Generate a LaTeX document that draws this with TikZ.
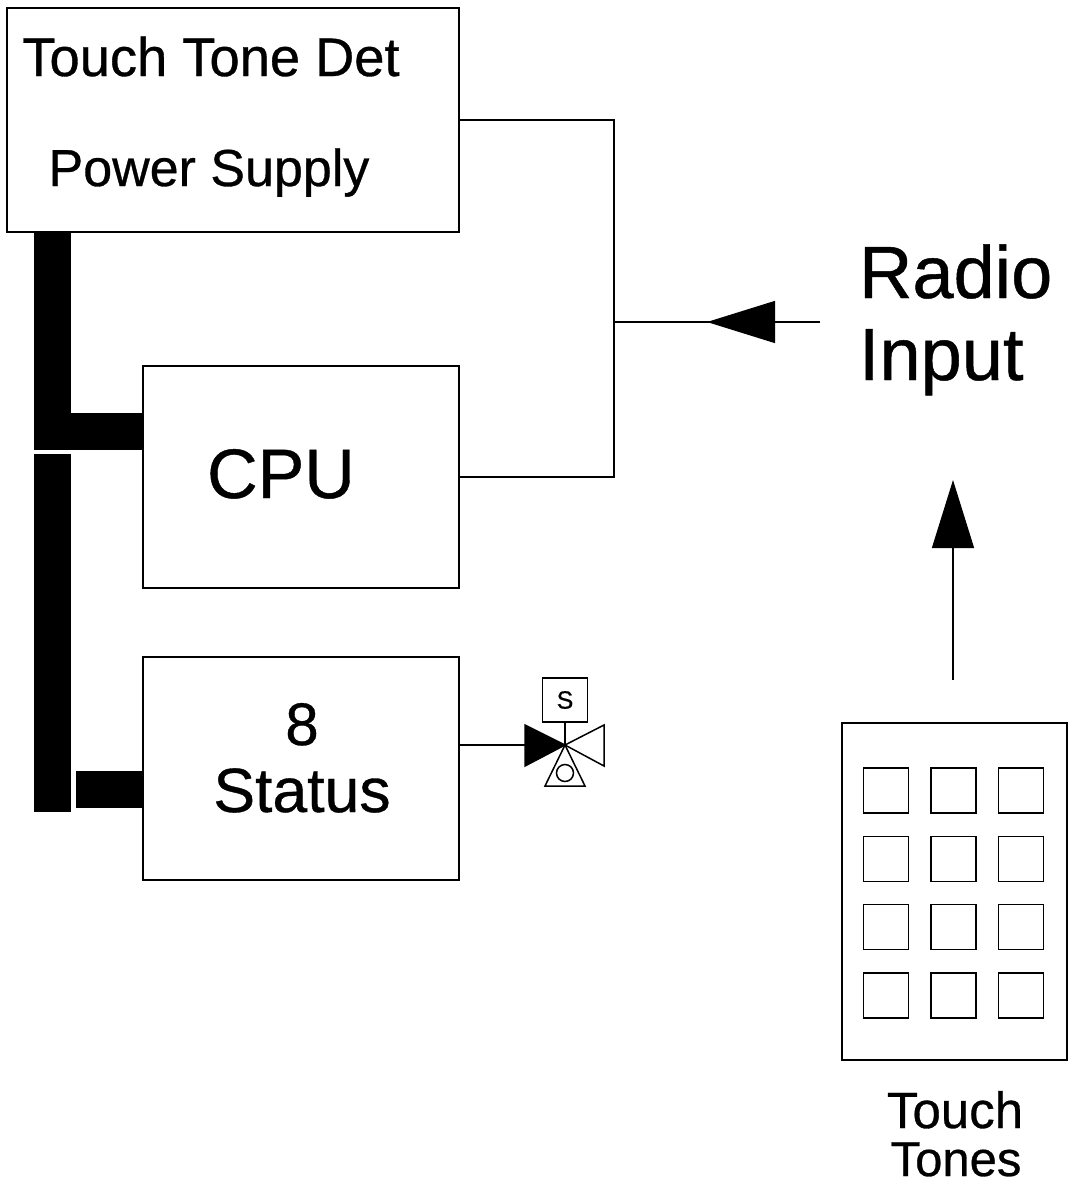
\documentclass[tikz,border=0pt]{standalone}
\usepackage{fontspec}
\setmainfont{Liberation Sans}[FakeBold=0.6]
\usetikzlibrary{
  arrows.meta,
  matrix,
  positioning
}
\tikzset{
  unitbox/.style={draw=black,line width=1.5pt,fill=white,inner sep=0pt,outer sep=0pt},
  keybox/.style={draw=black,line width=1.3pt,fill=white,inner sep=0pt,outer sep=0pt,
    minimum width=45pt,minimum height=45pt},
  wire/.style={draw=black,line width=1.3pt},
  bus/.style={draw=black,line width=37pt},
  bigarrow/.style={-{Triangle[length=68pt,width=42pt]},draw=black,line width=1.3pt},
  lab/.style={inner sep=0pt,outer sep=0pt,align=center,text=black},
  valve/.style={draw=black,line width=1.5pt,line join=miter}
}
\begin{document}
\begin{tikzpicture}[x=1pt,y=-1pt]
  \useasboundingbox (0,0) rectangle (1068,1187);
  % boxes
  \node[unitbox,minimum width=452pt,minimum height=224pt] (det) at (233,120) {};
  \node[unitbox,minimum width=316pt,minimum height=222pt] (cpu) at (301,477) {};
  \node[unitbox,minimum width=316pt,minimum height=223pt] (status) at (301,768.5) {};
  \node[unitbox,minimum width=225pt,minimum height=337pt] (pad) at (954.5,891.5) {};
  % texts
  \node[lab,anchor=base,font=\fontsize{54.3}{60}\selectfont] (dettext) at (211,76) {Touch Tone Det};
  \node[lab,anchor=base,font=\fontsize{52}{60}\selectfont] (powertext) at (209,186) {Power Supply};
  \node[lab,anchor=base,font=\fontsize{70}{80}\selectfont] (cputext) at (281,498) {CPU};
  \node[lab,anchor=base,font=\fontsize{60}{70}\selectfont] (eighttext) at (302,745) {8};
  \node[lab,anchor=base,font=\fontsize{62.5}{70}\selectfont] (statustext) at (302,812) {Status};
  \node[lab,anchor=base west,font=\fontsize{74}{80}\selectfont] (radio) at (859,298) {Radio};
  \node[lab,anchor=base west,font=\fontsize{74}{80}\selectfont] (input) at (859,380) {Input};
  \node[lab,anchor=base,font=\fontsize{51}{60}\selectfont] (touch) at (955,1128) {Touch};
  \node[lab,anchor=base,font=\fontsize{49}{60}\selectfont] (tones) at (956,1176) {Tones};
  % keypad
  \matrix[column sep=21.5pt,row sep=22pt,inner sep=0pt,outer sep=0pt] (keys) at (953.5,893) {
    \node[keybox] {}; & \node[keybox] {}; & \node[keybox] {}; \\
    \node[keybox] {}; & \node[keybox] {}; & \node[keybox] {}; \\
    \node[keybox] {}; & \node[keybox] {}; & \node[keybox] {}; \\
    \node[keybox] {}; & \node[keybox] {}; & \node[keybox] {}; \\
  };
  % bus bars
  \coordinate (bustop) at (52.5,232);
  \coordinate (busjoin) at (52.5,431.5);
  \coordinate (lowtop) at (52.5,454);
  \coordinate (lowend) at (52.5,812);
  \coordinate (stub) at (76,789.5);
  \draw[bus,line join=miter] (bustop)--(busjoin)--(cpu.west |- busjoin);
  \draw[bus] (lowtop)--(lowend);
  \draw[bus] (stub)--(status.west |- stub);
  % radio wiring
  \coordinate (bend) at (614,322);
  \coordinate (radioend) at (820,322);
  \coordinate (radiotail) at (775,322);
  \coordinate (radiotip) at (707,322);
  \draw[wire] (det.east)-|(bend);
  \draw[wire] (cpu.east)-|(bend);
  \draw[wire] (radioend)--(bend);
  \draw[bigarrow] (radiotail)--(radiotip);
  \coordinate (tonetail) at (953,680);
  \coordinate (tonetip) at (953,480);
  \draw[bigarrow] (tonetail)--(tonetip);
  % solenoid valve
  \coordinate (hub) at (565,745);
  \node[draw=black,line width=1.5pt,inner sep=0pt,outer sep=0pt,minimum width=45pt,
    minimum height=44pt,font=\fontsize{25}{25}\selectfont] (sol) at (565,700) {S};
  \node[draw=black,line width=1.5pt,circle,inner sep=0pt,outer sep=0pt,minimum size=17pt] (ball) at (565,773) {};
  \draw[wire] (status.east |- hub)--(hub);
  \draw[wire] (sol.south)--(hub);
  \draw[valve,fill=black] (hub)--(525,725)--(525,766)--cycle;
  \draw[valve] (hub)--(604,725)--(604,766)--cycle;
  \draw[valve] (hub)--(545,786)--(585,786)--cycle;
\end{tikzpicture}
\end{document}
